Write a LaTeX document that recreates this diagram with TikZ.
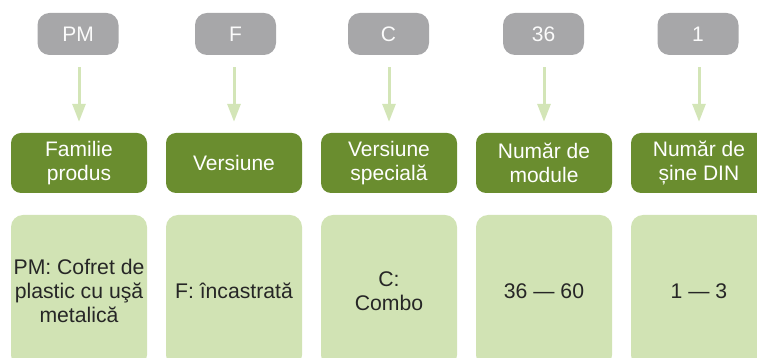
\documentclass[tikz,border=0pt]{standalone}
\usepackage{fontspec}
\setmainfont{Liberation Sans}
\usetikzlibrary{arrows.meta}
\definecolor{graybox}{HTML}{A7A7A9}
\definecolor{darkgreen}{HTML}{6A8D2F}
\definecolor{lightgreen}{HTML}{D1E3B4}
\definecolor{arrowgreen}{HTML}{D3E5B7}
\definecolor{darktext}{HTML}{262626}
\tikzset{
  codebox/.style={fill=graybox, draw=none, rounded corners=12pt, minimum width=81pt, minimum height=42pt, inner sep=0pt, text=white!95!graybox, font=\fontsize{21}{24}\selectfont},
  catbox/.style={fill=darkgreen, draw=none, rounded corners=10pt, minimum width=136pt, minimum height=60pt, inner sep=0pt, text=white, align=center, font=\fontsize{21}{24}\selectfont},
  valbox/.style={fill=lightgreen, draw=none, rounded corners=12pt, minimum width=136pt, minimum height=152pt, inner sep=0pt, text=darktext, align=center, font=\fontsize{21.2}{24}\selectfont},
  conn/.style={draw=arrowgreen, line width=3pt, -{Triangle[length=18pt,width=13pt]}, shorten <=12pt, shorten >=11pt}
}
\begin{document}
\begin{tikzpicture}[x=1pt,y=1pt]
\useasboundingbox (0,0) rectangle (757,358);
\clip (0,0) rectangle (757,358);
% columns: x centers 79,234,389,544,699 ; y (from top): gray 34, green 163, light 291
\node[codebox] (g1) at (78,324) {PM};
\node[codebox] (g2) at (235.5,324) {F};
\node[codebox] (g3) at (388.5,324) {C};
\node[codebox] (g4) at (543.5,324) {36};
\node[codebox] (g5) at (698,324) {1};
\node[catbox] (c1) at (79,195) {Familie\\produs};
\node[catbox] (c2) at (234,195) {Versiune};
\node[catbox] (c3) at (389,195) {Versiune\\specială};
\node[catbox] (c4) at (544,195) {Număr de\\module};
\node[catbox] (c5) at (699,195) {Număr de\\șine DIN};
\node[valbox] (v1) at (79,67) {PM: Cofret de\\plastic cu uşă\\metalică};
\node[valbox] (v2) at (234,67) {F: încastrată};
\node[valbox] (v3) at (389,67) {C:\\Combo};
\node[valbox] (v4) at (544,67) {36 — 60};
\node[valbox] (v5) at (699,67) {1 — 3};
\draw[conn] (g1.south -| c1.north) -- (c1.north);
\draw[conn] (g2.south -| c2.north) -- (c2.north);
\draw[conn] (g3.south -| c3.north) -- (c3.north);
\draw[conn] (g4.south -| c4.north) -- (c4.north);
\draw[conn] (g5.south -| c5.north) -- (c5.north);
\end{tikzpicture}
\end{document}
